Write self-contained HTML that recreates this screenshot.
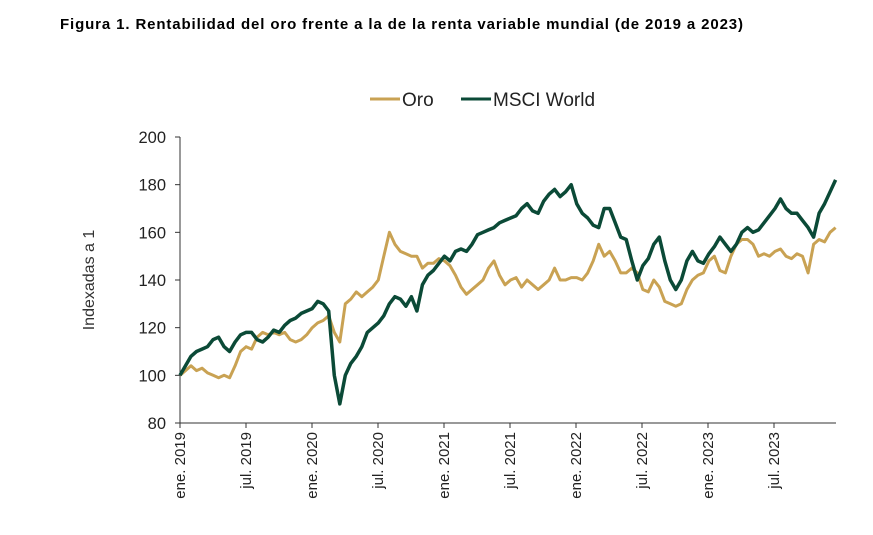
<!DOCTYPE html>
<html><head><meta charset="utf-8"><style>
body{margin:0;background:#fff;width:873px;height:530px;overflow:hidden;font-family:"Liberation Sans",sans-serif}
</style></head><body>
<svg width="873" height="530">
<text x="60" y="29" font-size="15" font-weight="bold" fill="#000" textLength="683" lengthAdjust="spacing">Figura 1. Rentabilidad del oro frente a la de la renta variable mundial (de 2019 a 2023)</text>
<g>
<line x1="370" y1="99" x2="400" y2="99" stroke="#c9a253" stroke-width="3"/>
<text x="402" y="106" font-size="19" fill="#222">Oro</text>
<line x1="461" y1="99" x2="491" y2="99" stroke="#0b4a37" stroke-width="3"/>
<text x="493" y="106" font-size="19" fill="#222">MSCI World</text>
</g>
<text transform="translate(94,280) rotate(-90)" text-anchor="middle" font-size="16" fill="#333">Indexadas a 1</text>
<g id="axes"></g>
<g id="series"></g>
</svg>
<script>
const yTicks=[80,100,120,140,160,180,200];
const xLabels=["ene. 2019","jul. 2019","ene. 2020","jul. 2020","ene. 2021","jul. 2021","ene. 2022","jul. 2022","ene. 2023","jul. 2023"];
const oro=[100,102,104,102,103,101,100,99,100,99,104,110,112,111,116,118,117,118,117,118,115,114,115,117,
120,122,123,125,118,114,130,132,135,133,135,137,140,150,160,155,152,151,150,150,145,147,147,149,
148,146,142,137,134,136,138,140,145,148,142,138,140,141,137,140,138,136,138,140,145,140,140,141,
141,140,143,148,155,150,152,148,143,143,145,143,136,135,140,137,131,130,129,130,136,140,142,143,
148,150,144,143,150,155,157,157,155,150,151,150,152,153,150,149,151,150,143,155,157,156,160,162];
const msci=[100,104,108,110,111,112,115,116,112,110,114,117,118,118,115,114,116,119,118,121,123,124,126,127,
128,131,130,127,100,88,100,105,108,112,118,120,122,125,130,133,132,129,133,127,138,142,144,147,
150,148,152,153,152,155,159,160,161,162,164,165,166,167,170,172,169,168,173,176,178,175,177,180,
172,168,166,163,162,170,170,164,158,157,148,140,146,149,155,158,148,140,136,140,148,152,148,147,
151,154,158,155,152,155,160,162,160,161,164,167,170,174,170,168,168,165,162,158,168,172,177,182];
const X0=180,X1=836,Y0=423,Y1=137,NS="http://www.w3.org/2000/svg";
const yS=v=>Y0-(v-80)/(200-80)*(Y0-Y1);
const xM=m=>X0+m*11;
const axes=document.getElementById('axes'),ser=document.getElementById('series');
function mk(t,a,p){const e=document.createElementNS(NS,t);for(const k in a)e.setAttribute(k,a[k]);p.appendChild(e);return e;}
let e=mk('line',{x1:X0,y1:Y1,x2:X0,y2:Y0,stroke:'#333','stroke-width':1},axes);


e=mk('line',{x1:X0,y1:Y0,x2:X1,y2:Y0,stroke:'#333','stroke-width':1},axes);


yTicks.forEach(v=>{
 const t=mk('line',{x1:X0-5,y1:yS(v),x2:X0,y2:yS(v),stroke:'#333'},axes);
 
 
 const l=mk('text',{x:X0-14,y:yS(v)+6,'text-anchor':'end','font-size':16.5,fill:'#222'},axes);
 l.textContent=v;
 
 
});
xLabels.forEach((s,i)=>{
 const x=xM(i*6);
 const t=mk('line',{x1:x,y1:Y0,x2:x,y2:Y0+5,stroke:'#333'},axes);
 
 
 const l=mk('text',{transform:`translate(${x+5},${Y0+9}) rotate(-90)`,'text-anchor':'end','font-size':15,fill:'#222'},axes);
 l.textContent=s;
 
 
});
function line(arr,col,w,name){
 const step=59.6/(arr.length-1);
 const d=arr.map((v,i)=>(i?'L':'M')+(X0+i*step*11).toFixed(1)+','+yS(v).toFixed(1)).join('');
 const p=mk('path',{d:d,fill:'none',stroke:col,'stroke-width':w,'stroke-linejoin':'round'},ser);
 
 
}
line(oro,'#c9a253',3,'oro-line');
line(msci,'#0b4a37',3.5,'msci-world-line');
</script>
</body></html>
